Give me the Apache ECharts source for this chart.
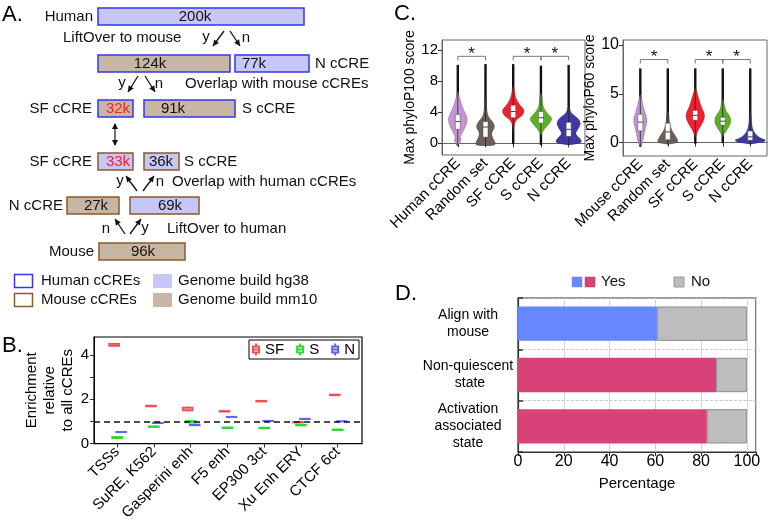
<!DOCTYPE html>
<html>
<head>
<meta charset="utf-8">
<script src="https://cdn.jsdelivr.net/npm/echarts@6/dist/echarts.min.js"></script>
<style>
  html, body { margin: 0; padding: 0; background: #fff; }
  #chart { width: 768px; height: 523px; }
</style>
</head>
<body>
<div id="chart"></div>
<script>
const FONT = '"Liberation Sans", Arial, Helvetica, sans-serif'

// ---------- A: flow of cCRE counts ----------
const flowCounts = ['200k', '124k', '77k', '32k', '91k', '33k', '36k', '27k', '69k', '96k']
const flowBuild = ['hg', 'mm', 'hg', 'mm', 'mm', 'hg', 'hg', 'mm', 'hg', 'mm']
const flowSpecies = ['h', 'h', 'h', 'h', 'h', 'm', 'm', 'm', 'm', 'm']
const flowHighlight = [false, false, false, true, false, true, false, false, false, false]

// ---------- B: enrichment boxes [min, q1, median, q3, max] ----------
const enrichCats = ['TSSs', 'SuRE, K562', 'Gasperini enh', 'F5 enh', 'EP300 3ct', 'Xu Enh ERY', 'CTCF 6ct']
const sfBox = [[4.36, 4.40, 4.44, 4.49, 4.53], [1.66, 1.67, 1.69, 1.71, 1.72], [1.42, 1.49, 1.55, 1.62, 1.68],
  [1.42, 1.43, 1.45, 1.47, 1.48], [1.88, 1.89, 1.91, 1.93, 1.94], [0.92, 0.94, 0.96, 0.98, 1.00], [2.16, 2.17, 2.19, 2.21, 2.22]]
const sBox = [[0.22, 0.24, 0.27, 0.30, 0.32], [0.72, 0.74, 0.76, 0.78, 0.80], [0.92, 0.95, 0.99, 1.02, 1.05],
  [0.68, 0.69, 0.71, 0.73, 0.74], [0.67, 0.68, 0.70, 0.72, 0.73], [0.79, 0.81, 0.83, 0.85, 0.87], [0.58, 0.60, 0.62, 0.64, 0.66]]
const nBox = [[0.50, 0.51, 0.52, 0.53, 0.54], [0.91, 0.92, 0.93, 0.94, 0.95], [0.80, 0.82, 0.84, 0.86, 0.88],
  [1.18, 1.19, 1.20, 1.21, 1.22], [1.00, 1.01, 1.02, 1.03, 1.04], [1.08, 1.10, 1.11, 1.12, 1.14], [0.98, 0.99, 1.00, 1.01, 1.02]]

// ---------- C: violins (score levels and density) ----------
const p100Cats = ['Human cCRE', 'Random set', 'SF cCRE', 'S cCRE', 'N cCRE']
const p100Y = [
  [-0.3, 0.0, 0.42, 0.85, 1.49, 2.35, 3.21, 4.07, 4.9, 6.2, 6.6],
  [-0.3, -0.2, 0.13, 0.64, 1.28, 2.14, 2.78, 3.4, 4.07, 5.0, 5.8],
  [1.2, 1.71, 2.35, 2.99, 3.64, 4.28, 4.93, 5.78, 6.64, 7.3],
  [1.0, 1.07, 1.41, 1.92, 2.57, 3.21, 3.85, 4.28, 4.93, 6.2, 6.5],
  [-0.2, -0.04, 0.21, 0.64, 1.28, 1.92, 2.57, 3.21, 3.85, 4.5, 4.8]
]
const p100D = [
  [0, 1.7, 3.3, 2.7, 5, 8.3, 9.3, 6.7, 4, 1, 0.5],
  [0, 9, 9.5, 7.5, 6.3, 9, 7, 3.3, 1.7, 1.0, 0.5],
  [0, 0.5, 1, 3.3, 9.3, 10.7, 6.7, 3, 1.3, 0.5],
  [0, 0.3, 1.3, 4, 8.3, 10.7, 6.7, 4, 2, 1, 0],
  [0, 8, 12.7, 11, 7.3, 9.7, 11.7, 9.3, 3.3, 1, 0]
]
const p100Quart = [[1.8, 2.8, 3.7], [0.8, 2.1, 2.8], [3.3, 4.1, 4.9], [2.6, 3.3, 4.1], [0.9, 1.8, 2.7]]
const p100Range = [[-0.3, 10.1], [-0.3, 10.2], [-0.1, 10.2], [-0.2, 10.0], [-0.2, 10.1]]
const p100Pairs = [[1, 2], [3, 4], [4, 5]]
const p100BracketY = 11.2

const p60Cats = ['Mouse cCRE', 'Random set', 'SF cCRE', 'S cCRE', 'N cCRE']
const p60Y = [
  [-0.4, -0.23, 0.28, 0.96, 1.64, 2.33, 2.84, 3.69, 4.71, 5.0],
  [-0.15, -0.05, 0.12, 0.45, 0.8, 1.3, 2.0, 3.0, 3.3],
  [0.5, 0.8, 1.3, 2.0, 2.5, 3.0, 3.7, 4.7, 5.4, 5.7],
  [0.5, 0.8, 1.3, 1.8, 2.33, 2.7, 3.35, 4.2, 4.5],
  [-0.15, -0.05, 0.12, 0.28, 0.45, 0.8, 1.3, 2.0, 3.3, 3.6]
]
const p60D = [
  [0, 1, 2.7, 4, 5.5, 6.7, 5.5, 3, 1, 0],
  [0, 7, 10, 9, 7, 4, 2, 1, 0],
  [0, 1, 3, 7, 9, 9, 6, 3, 1, 0],
  [0, 1, 4, 7, 8, 7, 3, 1, 0],
  [0, 6, 14, 15, 11, 6, 3, 1.5, 0.5, 0]
]
const p60Quart = [[1.2, 2.1, 2.9], [0.3, 1.1, 2.0], [2.3, 2.8, 3.3], [1.8, 2.2, 2.6], [0.25, 0.6, 1.2]]
const p60Range = [[-0.4, 7.6], [-0.15, 7.6], [-0.1, 7.6], [-0.05, 7.6], [-0.1, 7.6]]
const p60Pairs = [[1, 2], [3, 4], [4, 5]]
const p60BracketY = 8.5

// ---------- D: percentages ----------
const dCats = ['Align with\nmouse', 'Non-quiescent\n state', 'Activation\nassociated\nstate']
const yesPct = [60.7, 86.6, 82.5]
const noPct = [39.3, 13.4, 17.5]

// colours
const violinColors = ['#c594d3', '#6c5f58', '#f0202e', '#5ab324', '#3d38a3']
const boxColors = { SF: '#f25050', S: '#2fd82f', N: '#5a66f5' }
const yesColors = ['#6688ff', '#d94279', '#d94279']

// ----- layout of the schematic (pixels) -----
const flowBoxX = [[98, 304], [98, 230], [235, 309], [98, 133], [144, 235], [98, 133], [144, 179], [67, 119], [130, 199], [99, 185]]
const flowBoxTop = [8, 55, 55, 100, 100, 153, 153, 197, 197, 243]
const flowTextX = [195, 150, 254, 118, 173, 118, 161, 96, 170, 143]
const flowTexts = [
  ['Human', 93, 17, 'right'], ['LiftOver to mouse', 63, 38, 'left'], ['y', 206, 37, 'center'], ['n', 246, 38, 'center'],
  ['N cCRE', 315, 64, 'left'], ['y', 122, 83, 'center'], ['n', 159, 84, 'center'], ['Overlap with mouse cCREs', 185, 84, 'left'],
  ['SF cCRE', 92, 109, 'right'], ['S cCRE', 242, 109, 'left'],
  ['SF cCRE', 92, 162, 'right'], ['S cCRE', 184, 162, 'left'],
  ['y', 120, 181, 'center'], ['n', 160, 182, 'center'], ['Overlap with human cCREs', 172, 182, 'left'],
  ['N cCRE', 63, 206, 'right'], ['n', 106, 229, 'center'], ['y', 145, 228, 'center'], ['LiftOver to human', 167, 229, 'left'],
  ['Mouse', 94, 252, 'right'],
  ['Human cCREs', 41, 281, 'left'], ['Genome build hg38', 178, 281, 'left'],
  ['Mouse cCREs', 41, 300, 'left'], ['Genome build mm10', 178, 300, 'left']
]
const flowArrows = [[224, 31, 213, 46], [230, 31, 240, 46], [138, 76, 128, 92], [145, 76, 155, 92],
  [137, 191, 126, 176], [143, 191, 154, 176], [125, 234, 115, 219], [130, 234, 141, 219]]

const FILL = { hg: '#c6c6f7', mm: '#c8b6a4' }
const EDGE = { h: '#3535ee', m: '#8b5a2b' }

function txt(s, x, y, align, size, color) {
  return {
    type: 'text', x: x, y: y, z: 10,
    style: { text: s, font: (size || 15) + 'px ' + FONT, fill: color || '#111',
      textAlign: align, textVerticalAlign: 'middle' }
  }
}

function arrowHead(x1, y1, x2, y2) {
  const dx = x2 - x1, dy = y2 - y1, len = Math.sqrt(dx * dx + dy * dy)
  const ux = dx / len, uy = dy / len, hl = 6, hw = 3
  const bx = x2 - ux * hl, by = y2 - uy * hl
  return { type: 'polygon', shape: { points: [[x2, y2], [bx - uy * hw, by + ux * hw], [bx + uy * hw, by - ux * hw]] }, style: { fill: '#111' } }
}

function arrow(a) {
  return [
    { type: 'line', shape: { x1: a[0], y1: a[1], x2: a[2], y2: a[3] }, style: { stroke: '#111', lineWidth: 1.3 } },
    arrowHead(a[0], a[1], a[2], a[3])
  ]
}

const graphics = []
flowCounts.forEach((c, i) => {
  const [x0, x1] = flowBoxX[i]
  graphics.push({ type: 'rect', shape: { x: x0, y: flowBoxTop[i], width: x1 - x0, height: 17 },
    style: { fill: FILL[flowBuild[i]], stroke: EDGE[flowSpecies[i]], lineWidth: 1.5 } })
  graphics.push(txt(c, flowTextX[i], flowBoxTop[i] + 9, 'center', 15, flowHighlight[i] ? '#ff2020' : '#111'))
})
flowTexts.forEach(t => graphics.push(txt(t[0], t[1], t[2], t[3])))
flowArrows.forEach(a => graphics.push(...arrow(a)))
graphics.push({ type: 'line', shape: { x1: 115, y1: 124, x2: 115, y2: 145 }, style: { stroke: '#111', lineWidth: 1.2 } })
graphics.push(arrowHead(115, 134, 115, 123), arrowHead(115, 134, 115, 146))
// legend of A
graphics.push({ type: 'rect', shape: { x: 14.5, y: 274.5, width: 18, height: 13 }, style: { fill: 'none', stroke: EDGE.h, lineWidth: 1.5 } })
graphics.push({ type: 'rect', shape: { x: 153, y: 274, width: 19, height: 14 }, style: { fill: FILL.hg } })
graphics.push({ type: 'rect', shape: { x: 14.5, y: 293.5, width: 18, height: 13 }, style: { fill: 'none', stroke: EDGE.m, lineWidth: 1.5 } })
graphics.push({ type: 'rect', shape: { x: 153, y: 293, width: 19, height: 14 }, style: { fill: FILL.mm } })
// legend of D
graphics.push({ type: 'rect', shape: { x: 572, y: 277, width: 10, height: 10 }, style: { fill: yesColors[0], stroke: '#7b8ad8', lineWidth: 0.5 } })
graphics.push({ type: 'rect', shape: { x: 585, y: 277, width: 10, height: 10 }, style: { fill: yesColors[1], stroke: '#a0405f', lineWidth: 0.5 } })
graphics.push(txt('Yes', 601, 282, 'left'))
graphics.push({ type: 'rect', shape: { x: 674, y: 277, width: 10, height: 10 }, style: { fill: '#bdbdbd', stroke: '#888', lineWidth: 0.8 } })
graphics.push(txt('No', 691, 282, 'left'))
// panel letters
graphics.push(txt('A.', 2, 15, 'left', 22, '#000'), txt('B.', 2, 346, 'left', 22, '#000'),
  txt('C.', 394, 14, 'left', 22, '#000'), txt('D.', 395, 294, 'left', 22, '#000'))

// ---------- render helpers ----------
function boxItem(offsetPx, color) {
  return function (params, api) {
    const x = api.value(0)
    const cx = api.coord([x, 0])[0] + offsetPx
    const py = k => api.coord([x, api.value(k)])[1]
    const hw = 5
    return {
      type: 'group',
      children: [
        { type: 'line', shape: { x1: cx, y1: py(1), x2: cx, y2: py(2) }, style: { stroke: color, lineWidth: 1.2 } },
        { type: 'line', shape: { x1: cx, y1: py(4), x2: cx, y2: py(5) }, style: { stroke: color, lineWidth: 1.2 } },
        { type: 'rect', shape: { x: cx - hw, y: py(4), width: hw * 2, height: Math.max(py(2) - py(4), 0.5) },
          style: { fill: '#fff', stroke: color, lineWidth: 1.6 } },
        { type: 'line', shape: { x1: cx - hw, y1: py(3), x2: cx + hw, y2: py(3) }, style: { stroke: color, lineWidth: 1.2 } }
      ]
    }
  }
}

function violinItem(ys, ds, quart, range) {
  return function (params, api) {
    const i = params.dataIndex
    const x = api.value(0)
    const cx = api.coord([x, 0])[0]
    const py = v => api.coord([x, v])[1]
    const right = [], left = []
    ys[i].forEach((y, k) => {
      right.push([cx + ds[i][k], py(y)])
      left.unshift([cx - ds[i][k], py(y)])
    })
    const q = quart[i]
    const vLo = ys[i][0], vHi = ys[i][ys[i].length - 1]
    return {
      type: 'group',
      children: [
        { type: 'line', shape: { x1: cx, y1: py(range[i][0]), x2: cx, y2: py(range[i][1]) }, style: { stroke: '#111', lineWidth: 2.4 } },
        { type: 'polygon', shape: { points: right.concat(left), smooth: 0.35 },
          style: { fill: violinColors[i], stroke: 'rgba(0,0,0,0.35)', lineWidth: 0.6 } },
        { type: 'line', shape: { x1: cx, y1: py(vLo), x2: cx, y2: py(vHi) }, style: { stroke: '#222', lineWidth: 0.8 } },
        { type: 'rect', shape: { x: cx - 2.5, y: py(q[2]), width: 5, height: py(q[0]) - py(q[2]) },
          style: { fill: '#fff', stroke: '#444', lineWidth: 0.5 } },
        { type: 'line', shape: { x1: cx - 2.5, y1: py(q[1]), x2: cx + 2.5, y2: py(q[1]) }, style: { stroke: '#444', lineWidth: 1 } }
      ]
    }
  }
}

function bracketItem(params, api) {
  const p1 = api.coord([api.value(0), api.value(2)])
  const p2 = api.coord([api.value(1), api.value(2)])
  return {
    type: 'group',
    children: [
      { type: 'polyline', shape: { points: [[p1[0], p1[1] + 4], [p1[0], p1[1]], [p2[0], p2[1]], [p2[0], p2[1] + 4]] },
        style: { stroke: '#777', lineWidth: 1, fill: 'none' } },
      { type: 'text', style: { x: (p1[0] + p2[0]) / 2, y: p1[1] - 2, text: '*', font: '17px ' + FONT, fill: '#111',
        textAlign: 'center', textVerticalAlign: 'middle' } }
    ]
  }
}

const tickStyle = { lineStyle: { color: '#333', width: 1 }, length: 4 }
const catIdx = n => Array.from({ length: n }, (_, i) => i + 1)

function violinAxis(grid, min, max, cats) {
  return {
    type: 'value', gridIndex: grid, min: min, max: max,
    axisLine: { show: true, lineStyle: { color: '#666' } },
    axisTick: Object.assign({ customValues: catIdx(cats.length) }, tickStyle),
    axisLabel: { customValues: catIdx(cats.length), formatter: v => cats[v - 1] || '', rotate: 45, fontSize: 15, color: '#000', margin: 6 },
    splitLine: { show: false }
  }
}

function violinSeries(grid, ys, ds, quart, range, pairs, by) {
  return [{
    type: 'custom', xAxisIndex: grid, yAxisIndex: grid, silent: true,
    renderItem: violinItem(ys, ds, quart, range),
    encode: { x: 0, y: [1, 2] },
    data: range.map((r, i) => [i + 1, r[0], r[1]])
  }, {
    type: 'custom', xAxisIndex: grid, yAxisIndex: grid, silent: true,
    renderItem: bracketItem,
    encode: { x: [0, 1], y: 2 },
    data: pairs.map(p => [p[0], p[1], by])
  }]
}

const boxLegendIcon = 'path://M3,0L3,3M0,3L6,3L6,9L0,9ZM0,6L6,6M3,9L3,12'

const option = {
  animation: false,
  textStyle: { fontFamily: FONT },
  graphic: graphics,
  legend: {
    data: ['SF', 'S', 'N'], left: 249, top: 340,
    padding: [2, 4, 2, 3], itemGap: 12, itemWidth: 8, itemHeight: 12,
    borderColor: '#000', borderWidth: 1, borderRadius: 0,
    icon: boxLegendIcon,
    textStyle: { fontSize: 15, color: '#000' }
  },
  grid: [
    { left: 94, top: 337, width: 268, height: 108, show: true, borderColor: '#000', borderWidth: 1.2 },
    { left: 442, top: 40, width: 143, height: 115, show: true, borderColor: '#666', borderWidth: 1 },
    { left: 623, top: 40, width: 144, height: 116, show: true, borderColor: '#666', borderWidth: 1 },
    { left: 518, top: 298, width: 238, height: 154, show: true, borderColor: '#333', borderWidth: 1.2 }
  ],
  xAxis: [
    {
      type: 'value', gridIndex: 0, min: 0.37, max: 7.66,
      axisLine: { show: true, lineStyle: { color: '#000' } },
      axisTick: Object.assign({ customValues: catIdx(enrichCats.length) }, tickStyle),
      axisLabel: { customValues: catIdx(enrichCats.length), formatter: v => enrichCats[v - 1] || '', rotate: 45, fontSize: 15, color: '#000', margin: 6 },
      splitLine: { show: false }
    },
    violinAxis(1, 0.43, 5.59, p100Cats),
    violinAxis(2, 0.37, 5.61, p60Cats),
    {
      type: 'value', gridIndex: 3, min: 0, max: 104, interval: 20,
      axisLine: { show: true, lineStyle: { color: '#333', width: 1.2 } },
      axisTick: { show: true, length: 4, lineStyle: { color: '#333' } },
      axisLabel: { formatter: v => (v <= 100 ? v : ''), fontSize: 16, color: '#000', margin: 2 },
      splitLine: { show: true, lineStyle: { color: '#d4d4d4', width: 1 } },
      name: 'Percentage', nameLocation: 'middle', nameGap: 24,
      nameTextStyle: { fontSize: 15, color: '#000' }
    }
  ],
  yAxis: [
    {
      type: 'value', gridIndex: 0, min: 0, max: 4.8,
      axisLine: { show: true, lineStyle: { color: '#000' } },
      axisTick: Object.assign({ customValues: [0, 1, 2, 3, 4] }, tickStyle),
      axisLabel: { customValues: [0, 2, 4], fontSize: 15, color: '#000', margin: 5 },
      splitLine: { show: false },
      name: 'Enrichment\nrelative\nto all cCREs', nameLocation: 'middle', nameRotate: 90, nameGap: 13,
      nameTextStyle: { fontSize: 15, lineHeight: 18, color: '#000' }
    },
    {
      type: 'value', gridIndex: 1, min: -1.5, max: 13.3,
      axisLine: { show: true, lineStyle: { color: '#666' } },
      axisTick: Object.assign({ customValues: [0, 4, 8, 12] }, tickStyle),
      axisLabel: { customValues: [0, 4, 8, 12], fontSize: 15, color: '#000', margin: 4 },
      splitLine: { show: false },
      name: 'Max phyloP100 score', nameLocation: 'middle', nameRotate: 90, nameGap: 22,
      nameTextStyle: { fontSize: 14, color: '#000' }
    },
    {
      type: 'value', gridIndex: 2, min: -1.36, max: 10.5,
      axisLine: { show: true, lineStyle: { color: '#666' } },
      axisTick: Object.assign({ customValues: [0, 5, 10] }, tickStyle),
      axisLabel: { customValues: [0, 5, 10], fontSize: 16, color: '#000', margin: 4 },
      splitLine: { show: false },
      name: 'Max phyloP60 score', nameLocation: 'middle', nameRotate: 90, nameGap: 18,
      nameTextStyle: { fontSize: 14, color: '#000' }
    },
    {
      type: 'category', gridIndex: 3, data: dCats, inverse: true,
      axisLine: { show: true, lineStyle: { color: '#333', width: 1.2 } },
      axisTick: { show: true, inside: true, length: 5, lineStyle: { color: '#333', width: 1.5 } },
      axisLabel: { fontSize: 14, lineHeight: 17, color: '#000', align: 'center', margin: 50 },
      splitLine: { show: true, lineStyle: { color: '#bbb', type: 'dashed', width: 0.8 } }
    }
  ],
  series: [
    {
      name: 'SF', type: 'custom', xAxisIndex: 0, yAxisIndex: 0, silent: true,
      itemStyle: { color: '#fff', borderColor: boxColors.SF, borderWidth: 1.2 },
      renderItem: boxItem(-3, boxColors.SF), encode: { x: 0, y: [1, 2, 3, 4, 5] },
      data: sfBox.map((b, i) => [i + 1].concat(b)),
      markLine: {
        silent: true, symbol: 'none', label: { show: false },
        lineStyle: { color: '#111', type: [6, 4], width: 1.5 },
        data: [{ yAxis: 1 }]
      }
    },
    {
      name: 'S', type: 'custom', xAxisIndex: 0, yAxisIndex: 0, silent: true,
      itemStyle: { color: '#fff', borderColor: boxColors.S, borderWidth: 1.2 },
      renderItem: boxItem(0, boxColors.S), encode: { x: 0, y: [1, 2, 3, 4, 5] },
      data: sBox.map((b, i) => [i + 1].concat(b))
    },
    {
      name: 'N', type: 'custom', xAxisIndex: 0, yAxisIndex: 0, silent: true,
      itemStyle: { color: '#fff', borderColor: boxColors.N, borderWidth: 1.2 },
      renderItem: boxItem(4, boxColors.N), encode: { x: 0, y: [1, 2, 3, 4, 5] },
      data: nBox.map((b, i) => [i + 1].concat(b))
    },
    ...violinSeries(1, p100Y, p100D, p100Quart, p100Range, p100Pairs, p100BracketY),
    ...violinSeries(2, p60Y, p60D, p60Quart, p60Range, p60Pairs, p60BracketY),
    {
      name: 'Yes', type: 'bar', stack: 'pct', xAxisIndex: 3, yAxisIndex: 3, barWidth: '67%', silent: true,
      data: yesPct.map((v, i) => ({ value: v, itemStyle: { color: yesColors[i] } }))
    },
    {
      name: 'No', type: 'bar', stack: 'pct', xAxisIndex: 3, yAxisIndex: 3, barWidth: '67%', silent: true,
      itemStyle: { color: '#bdbdbd', borderColor: '#8c8c8c', borderWidth: 1 },
      data: noPct
    }
  ]
}

const chart = echarts.init(document.getElementById('chart'))
chart.setOption(option)
window.addEventListener('resize', () => chart.resize())
</script>
</body>
</html>
